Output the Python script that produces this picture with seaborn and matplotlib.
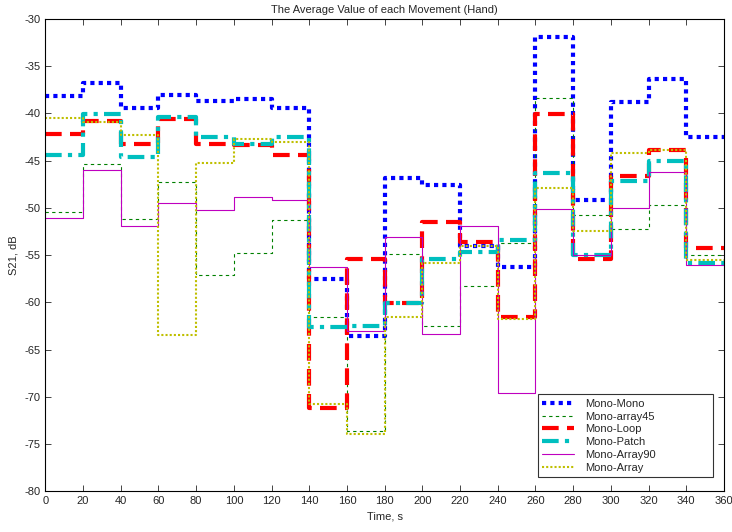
import numpy as np
import pandas as pd
import matplotlib
matplotlib.use("Agg")
import matplotlib.pyplot as plt
import seaborn as sns

# Time segment edges (s)
time_edges = list(range(0, 380, 20))

mono_mono = [-38.2, -36.8, -39.4, -38.1, -38.7, -38.5, -39.4, -57.5, -63.6,
             -46.8, -47.6, -54.0, -56.3, -31.9, -49.2, -38.8, -36.4, -42.5]
mono_array45 = [-50.4, -45.4, -51.2, -47.3, -57.1, -54.8, -51.3, -61.6, -73.6,
                -54.9, -62.5, -58.3, -53.7, -38.35, -50.8, -52.2, -49.7, -55.0]
mono_loop = [-42.2, -40.8, -43.2, -40.6, -43.2, -43.4, -44.4, -71.2, -55.4,
             -60.1, -51.5, -53.6, -61.6, -40.1, -55.4, -46.6, -43.9, -54.2]
mono_patch = [-44.4, -40.1, -44.6, -40.4, -42.5, -43.2, -42.5, -62.6, -62.5,
              -60.1, -55.45, -54.7, -53.4, -46.35, -55.0, -47.2, -45.0, -55.8]
mono_array90 = [-51.1, -46.0, -51.9, -49.5, -50.2, -48.9, -49.2, -56.25, -63.0,
                -53.1, -63.4, -51.9, -69.6, -50.1, -55.0, -50.0, -46.2, -56.1]
mono_array = [-40.5, -40.9, -42.3, -63.5, -45.3, -42.7, -43.0, -70.8, -73.9,
              -61.6, -55.8, -54.0, -61.8, -47.9, -52.4, -44.15, -43.9, -55.55]

series_names = ["Mono-Mono", "Mono-array45", "Mono-Loop", "Mono-Patch",
                "Mono-Array90", "Mono-Array"]
series_values = [mono_mono, mono_array45, mono_loop, mono_patch,
                 mono_array90, mono_array]

styles = {
    "Mono-Mono": dict(color="#0000FF", lw=3.0, ls=(0, (1, 1))),
    "Mono-array45": dict(color="#008000", lw=0.8, ls=(0, (3, 3))),
    "Mono-Loop": dict(color="#FF0000", lw=3.0, ls=(0, (4, 2))),
    "Mono-Patch": dict(color="#00BFBF", lw=3.0, ls=(0, (4, 1.5, 1, 1.5))),
    "Mono-Array90": dict(color="#BF00BF", lw=0.8, ls="-"),
    "Mono-Array": dict(color="#BFBF00", lw=1.5, ls=(0, (1, 1))),
}

rows = []
for name, vals in zip(series_names, series_values):
    v = list(vals) + [vals[-1]]
    for t, y in zip(time_edges, v):
        rows.append({"Time": t, "S21": y, "Series": name})
df = pd.DataFrame(rows)

sns.set_style("ticks")
plt.rcParams["font.family"] = ["Liberation Sans", "DejaVu Sans"]
plt.rcParams["axes.unicode_minus"] = False

fig = plt.figure(figsize=(7.32, 5.32), dpi=100)
ax = fig.add_axes([0.062, 0.0765, 0.927, 0.888])

for name in series_names:
    st = styles[name]
    sns.lineplot(data=df[df["Series"] == name], x="Time", y="S21", ax=ax,
                 estimator=None, sort=False, drawstyle="steps-post",
                 color=st["color"], linewidth=st["lw"], linestyle=st["ls"],
                 label=name)

ax.set_xlim(0, 360)
ax.set_ylim(-80, -30)
ax.set_xticks(range(0, 361, 20))
ax.set_yticks(range(-80, -29, 5))
ax.tick_params(direction="in", top=True, right=True, labelsize=8, length=4,
               width=0.6)
for s in ax.spines.values():
    s.set_linewidth(0.8)
    s.set_color("black")
ax.set_xlabel("Time, s", fontsize=8, labelpad=4)
ax.set_ylabel("S21, dB", fontsize=8, labelpad=4)
ax.set_title("The Average Value of each Movement (Hand)", fontsize=8, pad=4)

leg = ax.legend(loc="lower left", bbox_to_anchor=(0.726, 0.030, 0.258, 0.18),
                mode="expand", fontsize=8, frameon=True, fancybox=False,
                edgecolor="black", handlelength=2.8, handletextpad=1.0,
                labelspacing=0.25, borderaxespad=0.0, borderpad=0.4)
leg.get_frame().set_linewidth(0.8)

fig.savefig("out.png", dpi=100)
